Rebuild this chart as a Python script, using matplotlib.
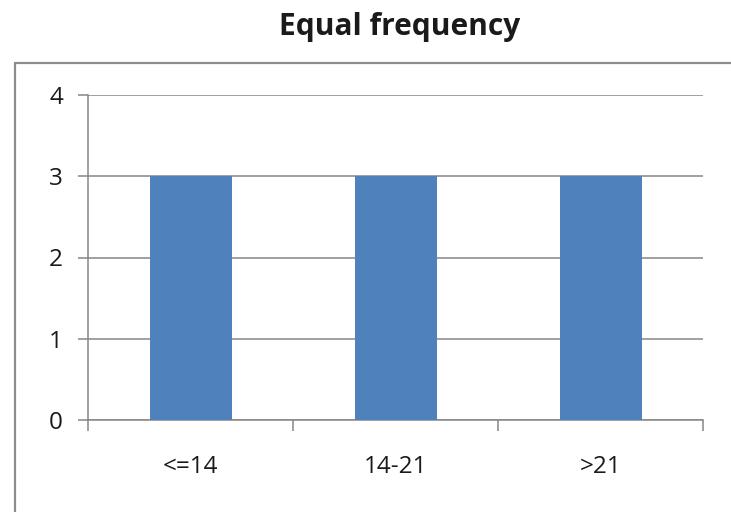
import matplotlib
matplotlib.use("Agg")
import matplotlib.pyplot as plt
from matplotlib.patches import Rectangle

categories = ["<=14", "14-21", ">21"]
counts = [3, 3, 3]
y_ticks = [0, 1, 2, 3, 4]

BAR = "#4F81BD"
GRID = "#868686"
INK = "#1A1A1A"

plt.rcParams["font.family"] = ["Open Sans", "DejaVu Sans"]

fig = plt.figure(figsize=(7.31, 5.12), dpi=100)
fig.patch.set_facecolor("white")

# chart-area frame, runs off the right and bottom edges
fig.patches.append(Rectangle((15 / 731, -0.2), 1.2, 1.2 - 63 / 512,
                             transform=fig.transFigure, fill=False,
                             edgecolor="#8C8C8C", lw=1.6, zorder=0))

ax = fig.add_axes([88 / 731, 1 - 420 / 512, (703 - 88) / 731, (420 - 95) / 512])
x = range(len(categories))
ax.bar(x, counts, width=0.4, color=BAR, zorder=3)

ax.set_xlim(-0.5, len(categories) - 0.5)
ax.set_ylim(0, 4)
ax.set_yticks(y_ticks)
ax.yaxis.grid(True, color=GRID, lw=1.1, zorder=0)

# boundary ticks between categories, labels centred under bars
ax.set_xticks([i - 0.5 for i in range(len(categories) + 1)])
ax.set_xticklabels([])
ax.set_xticks(list(x), minor=True)
ax.set_xticklabels(categories, minor=True)
ax.tick_params(axis="x", which="major", length=8, width=1.1, color=GRID, direction="out")
ax.tick_params(axis="x", which="minor", length=0, pad=25, labelsize=17.5, labelcolor=INK)
ax.tick_params(axis="y", length=7, width=1.1, color=GRID, pad=11, labelsize=17.5,
               labelcolor=INK)

for sp in ("top", "right"):
    ax.spines[sp].set_visible(False)
for sp in ("left", "bottom"):
    ax.spines[sp].set_color(GRID)
    ax.spines[sp].set_linewidth(1.1)

fig.text(400 / 731, 1 - 27 / 512, "Equal frequency", ha="center", va="center",
         fontsize=21.5, fontweight="bold", color=INK)

fig.savefig("out.png", dpi=100, facecolor="white")
